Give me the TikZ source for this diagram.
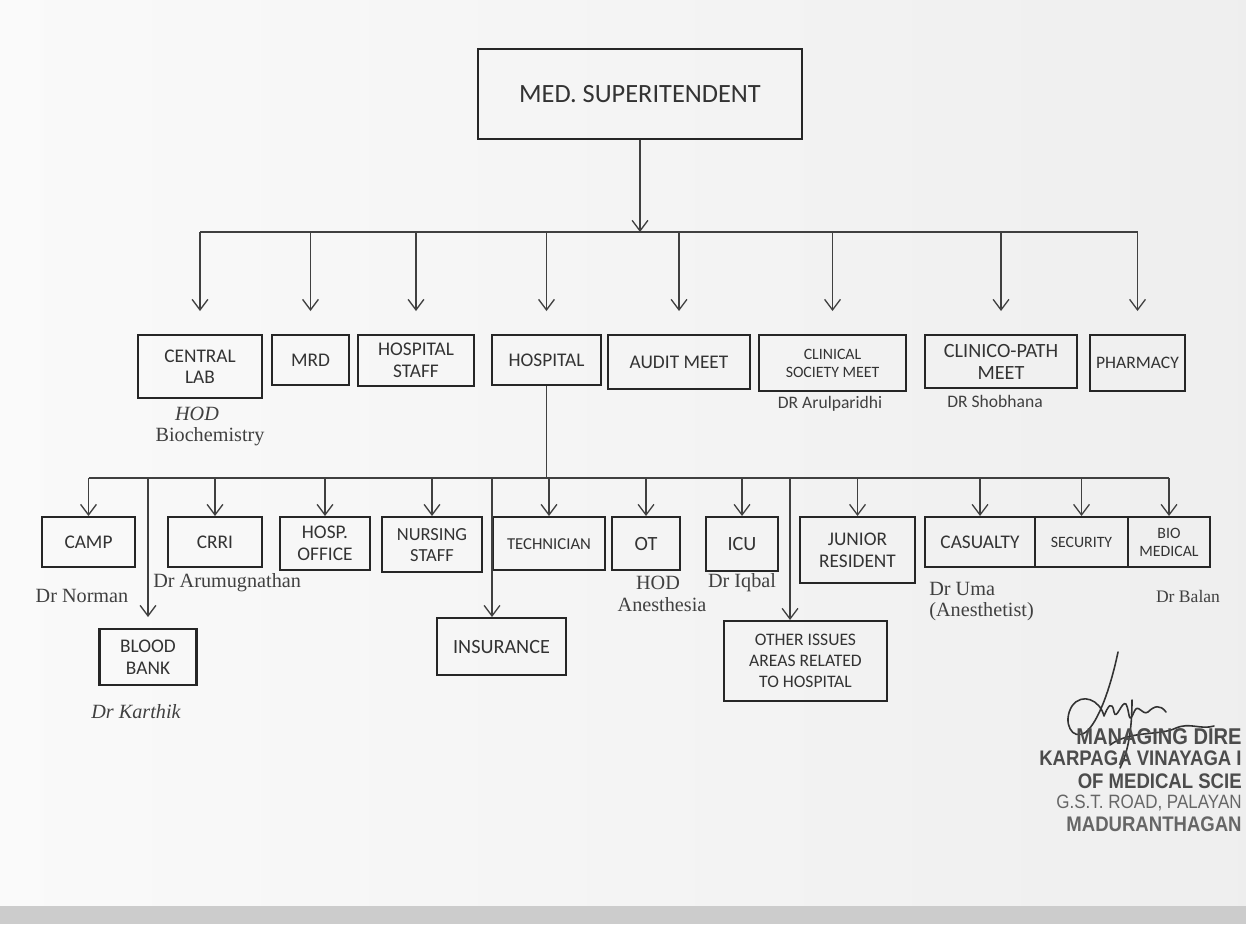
\documentclass[tikz,border=0pt]{standalone}
\usepackage{fontspec}
\setmainfont{Carlito}
\newfontfamily\serifft{Liberation Serif}
\newfontfamily\stampft[FakeStretch=0.88]{Liberation Sans}
\usetikzlibrary{arrows.meta}
\begin{document}
\begin{tikzpicture}[x=0.02cm,y=-0.02cm,
  box/.style={draw=black!85, line width=1.4pt, align=center, inner sep=1pt, anchor=north,
              text=black!80, font=\fontsize{11}{12.5}\selectfont},
  conn/.style={draw=black!75, line width=0.75pt},
  arr/.style={conn, -{Straight Barb[length=6pt,width=9pt]}},
  lab/.style={text=black!75, font=\serifft\fontsize{11.5}{13}\selectfont, inner sep=0pt},
  slab/.style={text=black!75, font=\fontsize{10}{12}\selectfont, inner sep=0pt},
  stamp/.style={text=black!70, font=\stampft\bfseries\fontsize{12}{13}\selectfont, inner sep=0pt, anchor=east},
  sig/.style={black!80, line width=0.9pt, line cap=round, line join=round},
]
\useasboundingbox (0,0) rectangle (1246,924);
\shade[left color=gray!4, right color=gray!13] (0,0) rectangle (1246,906);
\fill[gray!40] (0,906) rectangle (1246,924);

% top
\node[box, minimum width=6.48cm, minimum height=1.8cm, font=\fontsize{15}{18}\selectfont] (ms) at (640,48) {MED. SUPERITENDENT};

% level 1
\node[box, minimum width=2.48cm, minimum height=1.26cm] (cl) at (200,334) {CENTRAL\\LAB};
\node[box, minimum width=1.54cm, minimum height=1.0cm] (mrd) at (310.5,334) {MRD};
\node[box, minimum width=2.32cm, minimum height=1.02cm] (hs) at (416,334) {HOSPITAL\\STAFF};
\node[box, minimum width=2.18cm, minimum height=1.0cm] (hosp) at (546.5,334) {HOSPITAL};
\node[box, minimum width=2.84cm, minimum height=1.08cm] (audit) at (679,334) {AUDIT MEET};
\node[box, minimum width=2.94cm, minimum height=1.12cm, font=\fontsize{9}{10.5}\selectfont] (csm) at (832.5,334) {CLINICAL\\SOCIETY MEET};
\node[box, minimum width=3.04cm, minimum height=1.06cm, font=\fontsize{11.5}{12.5}\selectfont] (cpm) at (1001,334) {CLINICO-PATH\\MEET};
\node[box, minimum width=1.9cm, minimum height=1.12cm, font=\fontsize{10}{12}\selectfont] (ph) at (1137.5,334) {PHARMACY};

\coordinate (b1L) at (200,232);
\coordinate (b1R) at (1137.5,232);
\draw[conn] (b1L) -- (b1R);
\draw[arr] (ms.south) -- (ms.south |- b1L);
\foreach \n in {cl,mrd,hs,hosp,audit,csm,cpm,ph}
  \draw[arr, shorten >=0.46cm] (\n.north |- b1L) -- (\n.north);

\node[lab, font=\serifft\itshape\fontsize{11.5}{13}\selectfont] (hodb) at (197,414) {HOD};
\node[lab] (bioc) at (210,437) {Biochemistry};
\node[slab] (arul) at (830,404) {DR Arulparidhi};
\node[slab] (shob) at (995,401) {DR Shobhana};

% level 2
\node[box, minimum width=1.86cm, minimum height=1.0cm] (camp) at (88.5,516) {CAMP};
\node[box, minimum width=1.88cm, minimum height=1.0cm] (crri) at (215,516) {CRRI};
\node[box, minimum width=1.8cm, minimum height=1.06cm] (ho) at (325,516) {HOSP.\\OFFICE};
\node[box, minimum width=2.0cm, minimum height=1.1cm, font=\fontsize{10.5}{12}\selectfont] (ns) at (432,516) {NURSING\\STAFF};
\node[box, minimum width=2.24cm, minimum height=1.06cm, font=\fontsize{9.5}{11}\selectfont] (tech) at (549,516) {TECHNICIAN};
\node[box, minimum width=1.36cm, minimum height=1.06cm, font=\fontsize{11.5}{13}\selectfont] (ot) at (646,516) {OT};
\node[box, minimum width=1.44cm, minimum height=1.08cm, font=\fontsize{11.5}{13}\selectfont] (icu) at (742,516) {ICU};
\node[box, minimum width=2.3cm, minimum height=1.32cm] (jr) at (857.5,516) {JUNIOR\\RESIDENT};
\node[box, minimum width=2.2cm, minimum height=1.0cm] (cas) at (980,516) {CASUALTY};
\node[box, minimum width=1.86cm, minimum height=1.0cm, font=\fontsize{9}{10.5}\selectfont] (sec) at (1081.5,516) {SECURITY};
\node[box, minimum width=1.64cm, minimum height=1.0cm, font=\fontsize{9}{10.5}\selectfont] (bio) at (1169,516) {BIO\\MEDICAL};

\node[box, minimum width=1.94cm, minimum height=1.12cm] (bb) at (148,628) {BLOOD\\BANK};
\node[box, minimum width=2.58cm, minimum height=1.14cm, font=\fontsize{11.5}{13}\selectfont] (ins) at (501.5,617) {INSURANCE};
\node[box, minimum width=3.26cm, minimum height=1.6cm, font=\fontsize{10}{12}\selectfont] (oth) at (805.5,620) {OTHER ISSUES\\AREAS RELATED\\TO HOSPITAL};

\coordinate (b2L) at (88.5,478);
\coordinate (b2R) at (1169,478);
\draw[conn] (b2L) -- (b2R);
\draw[conn] (hosp.south) -- (hosp.south |- b2L);
\foreach \n in {camp,crri,ho,ns,tech,ot,icu,jr,cas,sec,bio}
  \draw[arr] (\n.north |- b2L) -- (\n.north);
\draw[arr, shorten >=0.22cm] (bb.north |- b2L) -- (bb.north);
\coordinate (insT) at ([xshift=-0.19cm]ins.north);
\draw[arr] (insT |- b2L) -- (insT);
\coordinate (othT) at ([xshift=-0.31cm]oth.north);
\draw[arr] (othT |- b2L) -- (othT);

% level 2 labels
\node[lab] (norm) at (82,596) {Dr Norman};
\node[lab, anchor=west] (arum) at (153,583) {Dr Arumugnathan};
\node[lab, font=\serifft\itshape\fontsize{11.5}{13}\selectfont] (kart) at (136,712) {Dr Karthik};
\node[lab] (hoda) at (658,583) {HOD};
\node[lab] (anes) at (662,605) {Anesthesia};
\node[lab] (iqb) at (742,583) {Dr Iqbal};
\node[lab, anchor=west] (uma) at (929,589) {Dr Uma};
\node[lab, anchor=west] (anst) at (929,612) {(Anesthetist)};
\node[lab, font=\serifft\fontsize{10}{12}\selectfont] (bal) at (1188,596) {Dr Balan};

% signature
\draw[sig]
  (1118,652) .. controls (1110,690) and (1098,722) .. (1086,732)
  .. controls (1072,742) and (1062,722) .. (1072,706)
  .. controls (1082,692) and (1100,700) .. (1104,716)
  .. controls (1108,706) and (1112,700) .. (1114,712)
  .. controls (1116,722) and (1122,700) .. (1126,704)
  .. controls (1130,712) and (1128,726) .. (1134,712)
  .. controls (1138,702) and (1142,716) .. (1148,712)
  .. controls (1154,706) and (1160,704) .. (1166,712);
\draw[sig]
  (1132,700) .. controls (1132,730) and (1128,752) .. (1120,768);
\draw[sig]
  (1110,745) .. controls (1130,730) and (1160,736) .. (1176,728)
  .. controls (1190,722) and (1200,730) .. (1214,726);

% stamp
\node[stamp, font=\stampft\bfseries\fontsize{13}{14}\selectfont] (st1) at (1242,737) {MANAGING DIRE};
\node[stamp] (st2) at (1242,758) {KARPAGA VINAYAGA I};
\node[stamp] (st3) at (1242,781) {OF MEDICAL SCIE};
\node[stamp, font=\stampft\fontsize{11}{12}\selectfont, text=black!60] (st4) at (1242,803) {G.S.T. ROAD, PALAYAN};
\node[stamp, text=black!60] (st5) at (1242,824) {MADURANTHAGAN};
\end{tikzpicture}
\end{document}
